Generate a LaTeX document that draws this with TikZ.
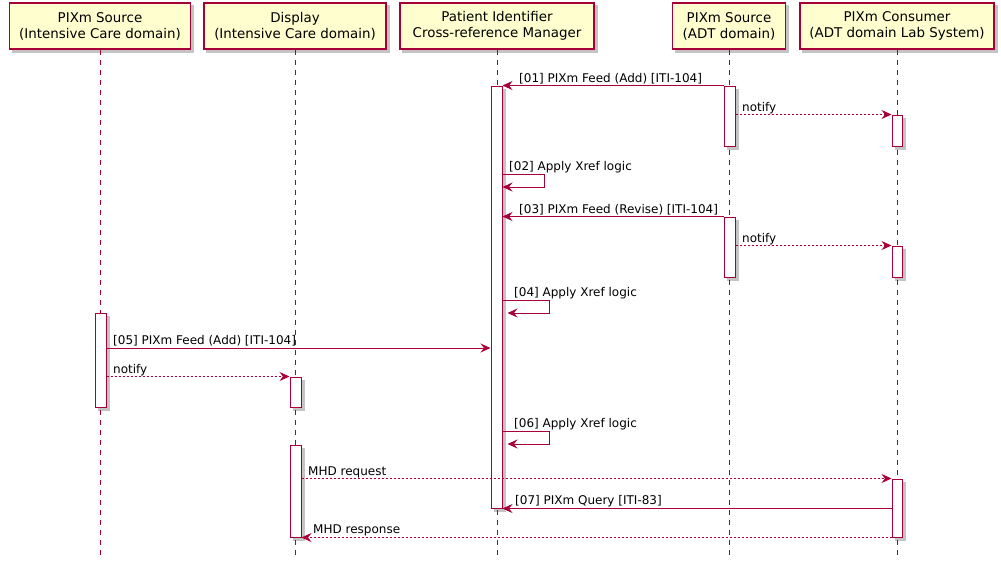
\documentclass[tikz,border=0pt]{standalone}
\usepackage{fontspec}
\setmainfont{DejaVu Sans}
\usetikzlibrary{arrows.meta,positioning,fit,backgrounds}
\definecolor{umlred}{HTML}{A80036}
\definecolor{umlfill}{HTML}{FEFECE}
\definecolor{umlshade}{HTML}{C4C4C4}
\tikzset{
  partbox/.style={draw=umlred,fill=umlfill,line width=1.3pt,align=center,
                  inner sep=0pt,minimum height=46,
                  font=\fontsize{13.4}{16}\selectfont},
  actbar/.style={draw=umlred,fill=white,line width=1pt,inner sep=0pt},
  lifeline/.style={draw=umlred,line width=0.8pt,dash pattern=on 5pt off 5pt},
  msg/.style={draw=umlred,line width=0.9pt,
              -{Stealth[length=10pt,width=9pt,inset=3.5pt]}},
  reply/.style={msg,dash pattern=on 2pt off 2pt},
  lbl/.style={anchor=base west,inner sep=0pt,font=\fontsize{12}{14}\selectfont}
}
\begin{document}
\begin{tikzpicture}[x=1pt,y=-1pt]
  \useasboundingbox (0,0) rectangle (1001,566);
  % participants
  \node[partbox,minimum width=181] (icsrc) at (100,26)
    {PIXm Source\\(Intensive Care domain)};
  \node[partbox,minimum width=182] (icdisp) at (295,26)
    {Display\\(Intensive Care domain)};
  \node[partbox,minimum width=194] (xref) at (497,26)
    {Patient Identifier\\Cross-reference Manager};
  \node[partbox,minimum width=113,fill=umlfill] (adtsrc) at (729,26)
    {PIXm Source\\(ADT domain)};
  \node[partbox,minimum width=194] (adtcons) at (897,26)
    {PIXm Consumer\\(ADT domain Lab System)};
  % lifelines
  \foreach \p in {icsrc,icdisp,xref,adtsrc,adtcons}
    \draw[lifeline] (\p.south) -- ++(0,506);
  % activations
  \node[actbar,fit={(491,86)(502,508)}] (xrefact) {};
  \node[actbar,fit={(724,86)(735,146)}] (adtactA) {};
  \node[actbar,fit={(724,217)(735,277)}] (adtactB) {};
  \node[actbar,fit={(892,115)(902,146)}] (consactA) {};
  \node[actbar,fit={(892,246)(902,277)}] (consactB) {};
  \node[actbar,fit={(892,479)(902,537)}] (consactC) {};
  \node[actbar,fit={(95,313)(106,407)}] (icact) {};
  \node[actbar,fit={(290,377)(301,407)}] (dispactA) {};
  \node[actbar,fit={(290,445)(301,537)}] (dispactB) {};
  % shadows
  \begin{pgfonlayer}{background}
    \foreach \p in {icsrc,icdisp,xref,adtsrc,adtcons,xrefact,adtactA,adtactB,
                    consactA,consactB,consactC,icact,dispactA,dispactB}
      \fill[umlshade] ([shift={(3,3)}]\p.north west) rectangle
                      ([shift={(3,3)}]\p.south east);
  \end{pgfonlayer}
  % messages
  \draw[msg] (adtactA.north west) -- (xrefact.east |- adtactA.north west);
  \node[lbl] (m01) at (519,82.5) {[01] PIXm Feed (Add) [ITI-104]};
  \draw[reply] (adtactA.east |- consactA.north) -- (consactA.north west);
  \node[lbl] (n01) at (742,111.5) {notify};
  \draw[msg] (xrefact.east |- 0,174) -- ++(42,0) -- ++(0,13) -- ++(-42,0);
  \node[lbl] (m02) at (509,170.5) {[02] Apply Xref logic};
  \draw[msg] (adtactB.north west) -- (xrefact.east |- adtactB.north west);
  \node[lbl] (m03) at (519,213.5) {[03] PIXm Feed (Revise) [ITI-104]};
  \draw[reply] (adtactB.east |- consactB.north) -- (consactB.north west);
  \node[lbl] (n02) at (742,242.5) {notify};
  \draw[msg] (xrefact.east |- 0,300) -- ++(47,0) -- ++(0,13) -- ++(-42,0);
  \node[lbl] (m04) at (514,296.5) {[04] Apply Xref logic};
  \draw[msg] (icact.east |- 0,348) -- (xrefact.west |- 0,348);
  \node[lbl] (m05) at (113,344.5) {[05] PIXm Feed (Add) [ITI-104]};
  \draw[reply] (icact.east |- dispactA.north) -- (dispactA.north west);
  \node[lbl] (n03) at (113,373.5) {notify};
  \draw[msg] (xrefact.east |- 0,431) -- ++(47,0) -- ++(0,13) -- ++(-42,0);
  \node[lbl] (m06) at (514,427.5) {[06] Apply Xref logic};
  \draw[reply] (dispactB.east |- consactC.north) -- (consactC.north west);
  \node[lbl] (r01) at (308,475.5) {MHD request};
  \draw[msg] (consactC.west |- xrefact.south) -- (xrefact.south east);
  \node[lbl] (m07) at (515,504.5) {[07] PIXm Query [ITI-83]};
  \draw[reply] (consactC.south west) -- (dispactB.south east);
  \node[lbl] (r02) at (313,533.5) {MHD response};
\end{tikzpicture}
\end{document}
